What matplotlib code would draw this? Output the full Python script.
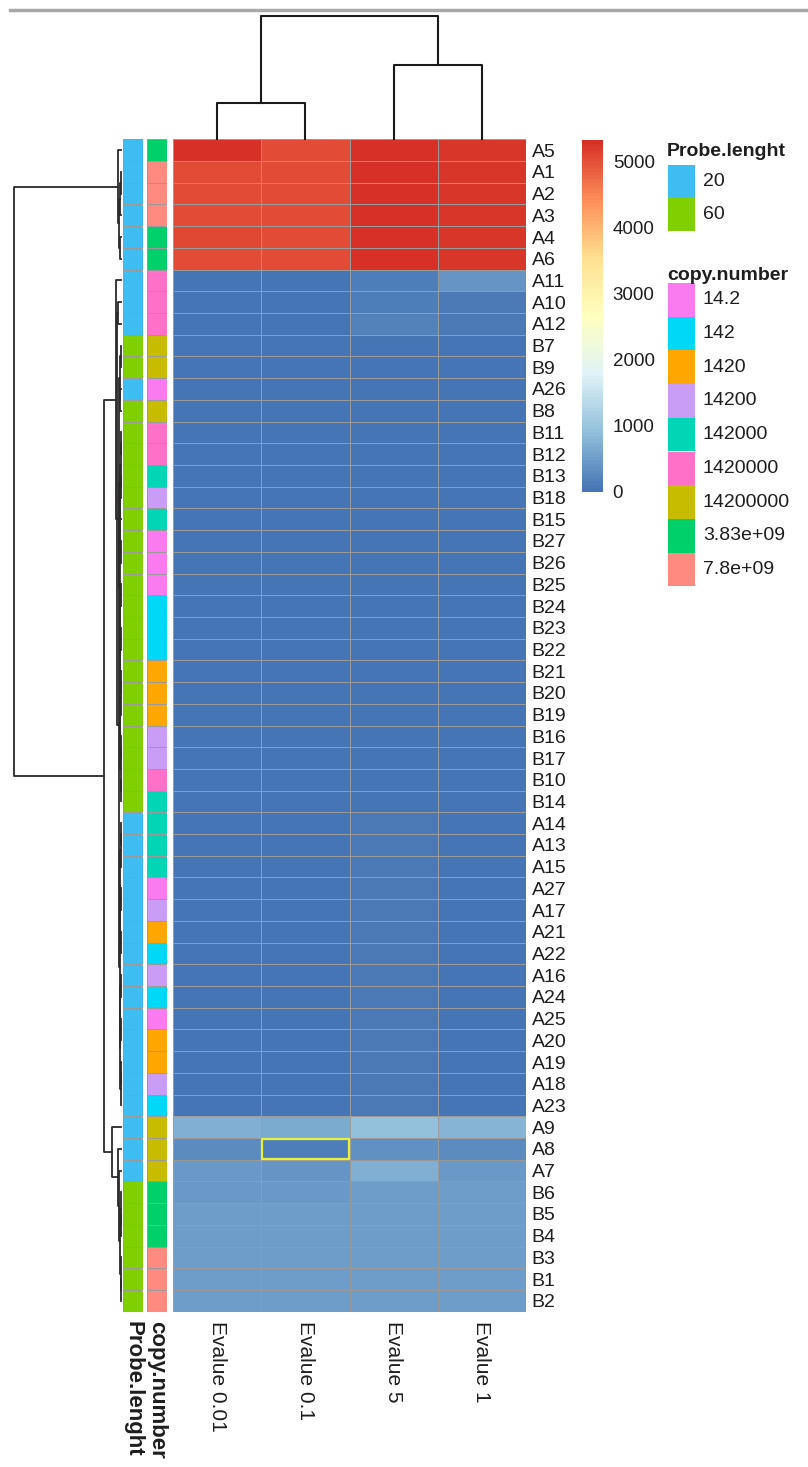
#!/usr/bin/env python3
# -*- coding: utf-8 -*-
"""
pheatmap-style heatmap: Evalue hits per probe, with row/column dendrograms
and Probe.lenght / copy.number annotation bars
"""

import numpy as np
import matplotlib
matplotlib.use('Agg')
import matplotlib.pyplot as plt
from matplotlib.colors import LinearSegmentedColormap, ListedColormap, Normalize
from matplotlib.cm import ScalarMappable
from matplotlib.patches import Rectangle
from matplotlib.lines import Line2D

plt.rcParams['font.family'] = ['Liberation Sans', 'DejaVu Sans']

# ---------------- data ----------------
col_labels = ['Evalue 0.01', 'Evalue 0.1', 'Evalue 5', 'Evalue 1']

row_labels = ['A5', 'A1', 'A2', 'A3', 'A4', 'A6', 'A11', 'A10', 'A12', 'B7',
              'B9', 'A26', 'B8', 'B11', 'B12', 'B13', 'B18', 'B15', 'B27', 'B26',
              'B25', 'B24', 'B23', 'B22', 'B21', 'B20', 'B19', 'B16', 'B17', 'B10',
              'B14', 'A14', 'A13', 'A15', 'A27', 'A17', 'A21', 'A22', 'A16', 'A24',
              'A25', 'A20', 'A19', 'A18', 'A23', 'A9', 'A8', 'A7', 'B6', 'B5',
              'B4', 'B3', 'B1', 'B2']

# one row per probe, columns in col_labels order
values = [
    [5300, 5020, 5290, 5250],  # A5
    [5060, 5030, 5280, 5240],  # A1
    [5050, 5030, 5290, 5250],  # A2
    [5060, 5040, 5300, 5260],  # A3
    [5070, 5040, 5330, 5270],  # A4
    [5060, 5030, 5310, 5260],  # A6
    [40, 30, 110, 380],        # A11
    [30, 20, 150, 60],         # A10
    [30, 20, 160, 60],         # A12
    [10, 0, 20, 10],           # B7
    [10, 10, 20, 10],          # B9
    [20, 20, 50, 30],          # A26
    [10, 10, 20, 10],          # B8
    [10, 10, 30, 10],          # B11
    [10, 10, 30, 10],          # B12
    [10, 10, 20, 10],          # B13
    [10, 10, 20, 10],          # B18
    [10, 10, 20, 10],          # B15
    [10, 10, 20, 10],          # B27
    [10, 10, 20, 10],          # B26
    [10, 10, 20, 10],          # B25
    [10, 10, 20, 10],          # B24
    [10, 10, 20, 10],          # B23
    [10, 10, 20, 10],          # B22
    [10, 10, 20, 10],          # B21
    [10, 10, 20, 10],          # B20
    [10, 10, 20, 10],          # B19
    [10, 10, 20, 10],          # B16
    [10, 10, 20, 10],          # B17
    [10, 10, 30, 10],          # B10
    [10, 10, 20, 10],          # B14
    [30, 20, 60, 40],          # A14
    [30, 20, 60, 40],          # A13
    [30, 20, 60, 40],          # A15
    [30, 20, 70, 40],          # A27
    [30, 20, 60, 40],          # A17
    [30, 20, 60, 40],          # A21
    [30, 20, 60, 40],          # A22
    [30, 20, 60, 40],          # A16
    [30, 20, 60, 40],          # A24
    [30, 20, 70, 40],          # A25
    [30, 20, 60, 40],          # A20
    [30, 20, 60, 40],          # A19
    [30, 20, 60, 40],          # A18
    [30, 20, 60, 40],          # A23
    [720, 680, 950, 780],      # A9
    [300, 120, 340, 300],      # A8
    [430, 420, 720, 440],      # A7
    [470, 470, 490, 480],      # B6
    [480, 480, 500, 490],      # B5
    [490, 490, 500, 500],      # B4
    [510, 500, 520, 510],      # B3
    [500, 500, 510, 500],      # B1
    [500, 490, 510, 500],      # B2
]

probe_levels = ['20', '60']
probe_colors = ['#3EBDF2', '#80D000']
probe = ['20', '20', '20', '20', '20', '20', '20', '20', '20', '60',
         '60', '20', '60', '60', '60', '60', '60', '60', '60', '60',
         '60', '60', '60', '60', '60', '60', '60', '60', '60', '60',
         '60', '20', '20', '20', '20', '20', '20', '20', '20', '20',
         '20', '20', '20', '20', '20', '20', '20', '20', '60', '60',
         '60', '60', '60', '60']

copy_levels = ['14.2', '142', '1420', '14200', '142000', '1420000',
               '14200000', '3.83e+09', '7.8e+09']
copy_colors = ['#FA7AF0', '#00D8F8', '#FFA600', '#C99CF5', '#00D5B5',
               '#FF70C8', '#C8BC00', '#00D06A', '#FF8A80']
copy_number = ['3.83e+09', '7.8e+09', '7.8e+09', '7.8e+09', '3.83e+09', '3.83e+09',
               '1420000', '1420000', '1420000', '14200000', '14200000', '14.2',
               '14200000', '1420000', '1420000', '142000', '14200', '142000',
               '14.2', '14.2', '14.2', '142', '142', '142', '1420', '1420', '1420',
               '14200', '14200', '1420000', '142000', '142000', '142000', '142000',
               '14.2', '14200', '1420', '142', '14200', '142', '14.2', '1420',
               '1420', '14200', '142', '14200000', '14200000', '14200000',
               '3.83e+09', '3.83e+09', '3.83e+09', '7.8e+09', '7.8e+09', '7.8e+09']

# dendrograms as nested (height, left, right); leaves = index in display order
top_grp = (0.028, 0, (0.015, (0.008, (0.004, 1, 2), 3), (0.005, 4, 5)))
g9_12 = (0.010, (0.004, 9, 10), (0.006, 11, 12))
g13_30 = (0.012,
          (0.008, (0.004, (0.002, 13, 14), (0.003, 15, 16)), (0.005, 17, (0.002, 18, 19))),
          (0.009, (0.006, (0.003, 20, 21), (0.002, 22, 23)),
           (0.007, (0.003, (0.002, 24, 25), 26), (0.004, (0.002, 27, 28), (0.003, 29, 30)))))
g31_44 = (0.014,
          (0.008, (0.003, (0.002, 31, 32), 33), (0.005, (0.003, 34, 35), (0.002, 36, 37))),
          (0.010, (0.006, (0.003, 38, 39), (0.002, 40, 41)), (0.004, (0.002, 42, 43), 44)))
blue_grp = (0.047, 6, (0.035, (0.030, 7, 8), (0.022, (0.016, g9_12, g13_30), g31_44)))
low_grp = (0.084, 45, (0.030, 46, (0.020, 47, (0.008, (0.003, 48, (0.002, 49, 50)),
                                               (0.002, 51, (0.001, 52, 53))))))
row_tree = (1.0, top_grp, (0.159, blue_grp, low_grp))
col_tree = (1.0, (0.293, 0, 1), (0.60, 2, 3))

highlight = ('A8', 'Evalue 0.1')

# ---------------- helpers ----------------
W, H = 808, 1467


def px_axes(fig, x, y, w, h):
    """axes from pixel box (top-left origin)"""
    return fig.add_axes([x / W, 1 - (y + h) / H, w / W, h / H])


def draw_tree(ax, node, vertical, **kw):
    """vertical=True: leaves along y (row dendrogram)"""
    if isinstance(node, int):
        return node + 0.5, 0.0
    h, a, b = node
    pa, ha = draw_tree(ax, a, vertical, **kw)
    pb, hb = draw_tree(ax, b, vertical, **kw)
    xs = [ha, h, h, hb]
    ys = [pa, pa, pb, pb]
    if vertical:
        ax.plot(xs, ys, **kw)
    else:
        ax.plot(ys, xs, **kw)
    return (pa + pb) / 2, h


txt_color = '#1e1e1e'
border = '#9a9a9a'

fig = plt.figure(figsize=(W / 100, H / 100), dpi=100)
fig.add_artist(Line2D([10 / W, 1], [1 - 10 / H] * 2, color='#a8a8a8', lw=2.5,
                      transform=fig.transFigure))

data = np.array(values, dtype=float)
n_rows, n_cols = data.shape
cmap = LinearSegmentedColormap.from_list(
    'rdylbu', ['#4575B4', '#91BFDB', '#E0F3F8', '#FFFFBF', '#FEE090', '#FC8D59', '#D73027'], N=100)
norm = Normalize(vmin=data.min(), vmax=data.max())

hm_top, hm_bot = 139.3, 1311.7
hm_h = hm_bot - hm_top

# ========== heatmap ==========
ax = px_axes(fig, 173, hm_top, 353, hm_h)
ax.pcolormesh(np.arange(n_cols + 1), np.arange(n_rows + 1), data, cmap=cmap, norm=norm,
              edgecolors=border, linewidth=0.7)
ax.set_xlim(0, n_cols)
ax.set_ylim(n_rows, 0)
for s in ax.spines.values():
    s.set_visible(False)
ax.set_xticks(np.arange(n_cols) + 0.5)
ax.set_xticklabels(col_labels, rotation=270, fontsize=15, color=txt_color)
ax.yaxis.tick_right()
ax.set_yticks(np.arange(n_rows) + 0.5)
ax.set_yticklabels(row_labels, fontsize=14, color=txt_color)
ax.tick_params(axis='x', length=0, pad=7)
ax.tick_params(axis='y', length=0, pad=4)

r = row_labels.index(highlight[0])
c = col_labels.index(highlight[1])
ax.add_patch(Rectangle((c + 0.01, r + 0.05), 0.98, 0.9, fill=False,
                       edgecolor='#E8F03A', linewidth=1.6, zorder=5))

# ========== annotation bars ==========
for x0, levels, colors, vals, title in [
        (123, probe_levels, probe_colors, probe, 'Probe.lenght'),
        (147, copy_levels, copy_colors, copy_number, 'copy.number')]:
    aa = px_axes(fig, x0, hm_top, 20, hm_h)
    idx = np.array([levels.index(v) for v in vals])[:, None]
    aa.pcolormesh(np.arange(2), np.arange(n_rows + 1), idx, cmap=ListedColormap(colors),
                  vmin=-0.5, vmax=len(levels) - 0.5, edgecolors=border, linewidth=0.5)
    aa.set_xlim(0, 1)
    aa.set_ylim(n_rows, 0)
    for s in aa.spines.values():
        s.set_visible(False)
    aa.set_yticks([])
    aa.set_xticks([0.5])
    aa.set_xticklabels([title], rotation=270, fontsize=16, fontweight='bold', color=txt_color)
    aa.tick_params(axis='x', length=0, pad=7)

# ========== dendrograms ==========
ad = px_axes(fig, 14, hm_top, 107, hm_h)
draw_tree(ad, row_tree, True, color='#2a2a2a', lw=1.3, clip_on=False)
ad.set_xlim(1.0, 0.0)
ad.set_ylim(n_rows, 0)
ad.axis('off')

ac = px_axes(fig, 173, 16, 353, hm_top - 16)
draw_tree(ac, col_tree, False, color='#1a1a1a', lw=1.5, clip_on=False)
ac.set_xlim(0, n_cols)
ac.set_ylim(0, 1.0)
ac.axis('off')

# ========== colour bar ==========
cax = px_axes(fig, 582, 140, 21, 352)
cb = fig.colorbar(ScalarMappable(norm=norm, cmap=cmap), cax=cax)
cb.outline.set_visible(False)
cb.set_ticks([0, 1000, 2000, 3000, 4000, 5000])
cb.ax.tick_params(length=0, pad=7, labelsize=13.5, labelcolor=txt_color)

# ========== legends ==========
al = px_axes(fig, 660, 135, 148, 470)
al.set_xlim(660, 808)
al.set_ylim(605, 135)
al.axis('off')
for title, base, y0, sw_h, levels, colors in [
        ('Probe.lenght', 156, 165, 33.0, probe_levels, probe_colors),
        ('copy.number', 280, 283, 33.7, copy_levels, copy_colors)]:
    al.text(667, base, title, fontsize=14, fontweight='bold', color=txt_color, va='baseline')
    for i, (lv, col) in enumerate(zip(levels, colors)):
        al.add_patch(Rectangle((668, y0 + i * sw_h), 27, sw_h, facecolor=col,
                               edgecolor='none'))
        al.text(703, y0 + (i + 0.5) * sw_h, lv, fontsize=14, color=txt_color, va='center')

fig.savefig('out.png', dpi=100, facecolor='white')
plt.close(fig)
